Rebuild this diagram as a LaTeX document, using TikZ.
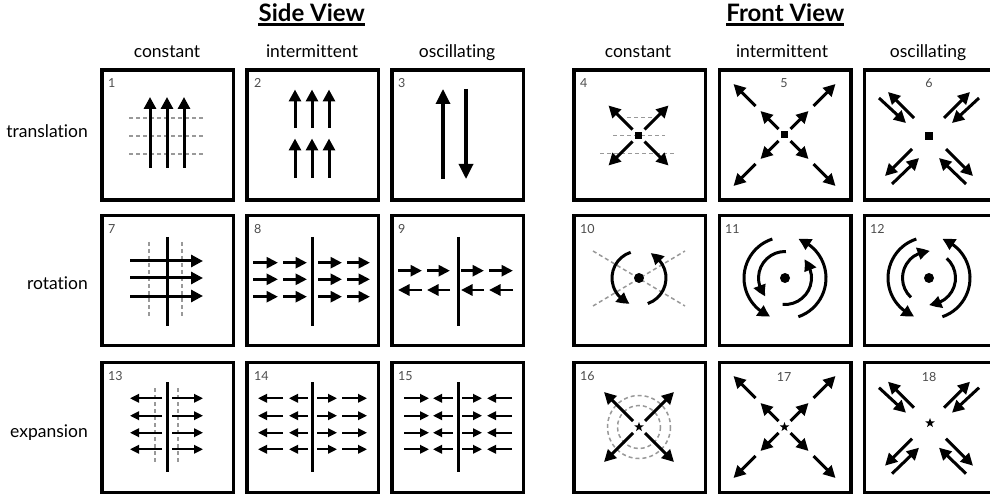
\documentclass[tikz,border=0pt]{standalone}
\usepackage{fontspec}
\setmainfont{Lato}[Ligatures=NoCommon]
\usetikzlibrary{arrows.meta,shapes.geometric,bending}
\newcommand\myIntX{%
  \foreach \sx/\sy in {1/1,1/-1,-1/1,-1/-1}{
    \draw[arr] (6*\sx,6*\sy) -- (24*\sx,24*\sy);
    \draw[arr] (29*\sx,29*\sy) -- (51*\sx,51*\sy);
  }}
\newcommand\myOscX{%
  \foreach \sx in {1,-1}{
    \draw[arr] (-50*\sx,-38) -- (-23*\sx,-13);
    \draw[arr] (-15*\sx,-18) -- (-41*\sx,-44);
    \draw[arr] (-17*\sx,13) -- (-44*\sx,40);
    \draw[arr] (-37*\sx,48) -- (-10*\sx,22);
  }}
\begin{document}
\begin{tikzpicture}[x=1pt,y=-1pt,
  panel/.style={draw=black, line width=3.5pt, minimum width=131.5pt, minimum height=130pt, inner sep=0pt},
  arr/.style={line width=3pt, -{Triangle[length=12pt,width=12pt]}},
  bigarr/.style={line width=3.3pt, -{Triangle[length=15pt,width=14pt]}},
  sarr/.style={line width=2.8pt, -{Triangle[length=11.5pt,width=11pt]}},
  tarr/.style={line width=2pt, -{Triangle[length=9pt,width=8.5pt]}},
  carr/.style={line width=3pt, -{Triangle[length=12pt,width=12pt,bend]}},
  solid3/.style={line width=3pt},
  gd/.style={draw=black!40, line width=1.5pt, dash pattern=on 4pt off 3pt},
  hdr/.style={font=\fontsize{24}{24}\selectfont\bfseries, inner sep=0pt},
  lab/.style={font=\fontsize{17.5}{17.5}\selectfont, inner sep=0pt},
  num/.style={font=\fontsize{12.5}{12.5}\selectfont, text=black!70, inner sep=0pt},
  starnode/.style={star, star points=5, star point ratio=2.5, fill=black, inner sep=0pt, minimum size=10pt}
]
\useasboundingbox (0,0) rectangle (990,494);
\clip (0,0) rectangle (990,494);

% headers
\node[hdr, anchor=base] (sv) at (311.7,21.7) {Side View};
\node[hdr, anchor=base] (fv) at (785.3,21.7) {Front View};
\draw[line width=2.2pt] ([yshift=-2.4pt]sv.south west) -- ([yshift=-2.4pt]sv.south east);
\draw[line width=2.2pt] ([yshift=-2.4pt]fv.south west) -- ([yshift=-2.4pt]fv.south east);

% column labels
\node[lab, anchor=base] (c1) at (167,58) {constant};
\node[lab, anchor=base] (c2) at (312,58) {intermittent};
\node[lab, anchor=base] (c3) at (457,58) {oscillating};
\node[lab, anchor=base] (c4) at (638,58) {constant};
\node[lab, anchor=base] (c5) at (782,58) {intermittent};
\node[lab, anchor=base] (c6) at (928,58) {oscillating};

% row labels
\node[lab, anchor=base east] (r1) at (88,137.5) {translation};
\node[lab, anchor=base east] (r2) at (88,290) {rotation};
\node[lab, anchor=base east] (r3) at (88,437) {expansion};

% boxes
\foreach \cx [count=\i] in {167.5,312.8,457.8,639.5,785.2,930.3}{
  \foreach \cy [count=\j] in {135.15,280.65,427.5}{
    \node[panel] (b\i\j) at (\cx,\cy) {};
  }}

% numbers
\node[num, anchor=west] (n1) at (108,83) {1};
\node[num, anchor=west] (n2) at (254,83) {2};
\node[num, anchor=west] (n3) at (398,83) {3};
\node[num, anchor=west] (n4) at (580,83) {4};
\node[num] (n5) at (784,83) {5};
\node[num] (n6) at (929,83) {6};
\node[num, anchor=west] (n7) at (108,229) {7};
\node[num, anchor=west] (n8) at (254,229) {8};
\node[num, anchor=west] (n9) at (398,229) {9};
\node[num, anchor=west] (n10) at (580,229) {10};
\node[num, anchor=west] (n11) at (725,229) {11};
\node[num, anchor=west] (n12) at (870,229) {12};
\node[num, anchor=west] (n13) at (108,376) {13};
\node[num, anchor=west] (n14) at (254,376) {14};
\node[num, anchor=west] (n15) at (398,376) {15};
\node[num, anchor=west] (n16) at (580,376) {16};
\node[num] (n17) at (784,377) {17};
\node[num] (n18) at (929,377) {18};

% ---- panel 1
\foreach \y in {118,136,154}{\draw[gd] (129,\y) -- (205,\y);}
\foreach \x in {150,167,184}{\draw[arr] (\x,168) -- (\x,97);}
% ---- panel 2
\foreach \x in {295,312,329}{
  \draw[arr] (\x,128) -- (\x,89.5);
  \draw[arr] (\x,178) -- (\x,138.5);}
% ---- panel 3
\draw[bigarr] (443,179) -- (443,89);
\draw[bigarr] (466,89) -- (466,179);

% ---- panel 7
\foreach \x in {149,182}{\draw[gd] (\x,242) -- (\x,317);}
\draw[solid3] (167,237) -- (167,326);
\foreach \y in {261,278,296}{\draw[arr] (130,\y) -- (203,\y);}
% ---- panel 8
\draw[solid3] (312,237) -- (312,326);
\foreach \y in {262.7,279.3,296.7}{
  \foreach \a/\b in {253/278,283/307,318/342,347/370}{\draw[sarr] (\a,\y) -- (\b,\y);}}
% ---- panel 9
\draw[solid3] (458,237) -- (458,326);
\foreach \a/\b in {398/422,427/450,461/484,489/513}{
  \draw[sarr] (\a,270.7) -- (\b,270.7);
  \draw[sarr] (\b,290) -- (\a,290);}

% ---- panel 13
\foreach \x in {155,178}{\draw[gd] (\x,388) -- (\x,462);}
\draw[solid3] (167,382) -- (167,472);
\foreach \y in {398.3,415.7,432.7,449.3}{
  \draw[tarr] (162,\y) -- (130,\y);
  \draw[tarr] (172,\y) -- (203,\y);}
% ---- panel 14
\draw[solid3] (312,382) -- (312,472);
\foreach \y in {398.3,415.7,432.7,449.3}{
  \draw[tarr] (283,\y) -- (258,\y);
  \draw[tarr] (308,\y) -- (289,\y);
  \draw[tarr] (317,\y) -- (337,\y);
  \draw[tarr] (342,\y) -- (367,\y);}
% ---- panel 15
\draw[solid3] (458,382) -- (458,472);
\foreach \y in {398.3,415.7,432.7,449.3}{
  \draw[tarr] (404,\y) -- (429,\y);
  \draw[tarr] (453,\y) -- (433,\y);
  \draw[tarr] (462,\y) -- (482,\y);
  \draw[tarr] (512,\y) -- (487,\y);}

% ---- panel 4
\draw[gd] (627,117.3) -- (652,117.3);
\draw[gd] (613,135.3) -- (665,135.3);
\draw[gd] (600,153.3) -- (675,153.3);
\begin{scope}[shift={(638.5,135.5)}]
  \fill (-3.5,-3.5) rectangle (3.5,3.5);
  \foreach \sx/\sy in {1/1,1/-1,-1/1,-1/-1}{\draw[arr] (6*\sx,6*\sy) -- (30*\sx,30*\sy);}
\end{scope}
% ---- panel 5
\begin{scope}[shift={(784.5,135)}]
  \fill (-3.5,-3.5) rectangle (3.5,3.5);
  \myIntX
\end{scope}
% ---- panel 6
\begin{scope}[shift={(929,136)}]
  \fill (-4,-4) rectangle (4,4);
  \myOscX
\end{scope}

% ---- panel 10
\begin{scope}[shift={(639,278)}]
  \draw[gd] (-46,-27) -- (46,28);
  \draw[gd] (-46,28) -- (46,-27);
  \fill (0,0) circle (5);
  \draw[carr] (-108:27) arc[start angle=-108, end angle=-250, radius=27];
  \draw[carr] (71:27) arc[start angle=71, end angle=-65, radius=27];
\end{scope}
% ---- panel 11
\begin{scope}[shift={(785,278)}]
  \fill (0,0) circle (5);
  \draw[carr] (-108:41) arc[start angle=-108, end angle=-249, radius=41];
  \draw[carr] (71:41) arc[start angle=71, end angle=-71, radius=41];
  \draw[carr] (-88:26.5) arc[start angle=-88, end angle=-223, radius=26.5];
  \draw[carr] (95:26.5) arc[start angle=95, end angle=-44, radius=26.5];
\end{scope}
% ---- panel 12
\begin{scope}[shift={(929,278)}]
  \fill (0,0) circle (5);
  \draw[carr] (-108:41) arc[start angle=-108, end angle=-249, radius=41];
  \draw[carr] (71:41) arc[start angle=71, end angle=-71, radius=41];
  \draw[carr] (-227:26.5) arc[start angle=-227, end angle=-88, radius=26.5];
  \draw[carr] (-48:26.5) arc[start angle=-48, end angle=90, radius=26.5];
\end{scope}

% ---- panel 16
\begin{scope}[shift={(639,427)}]
  \draw[gd] (0,0) circle (31.5);
  \draw[gd] (0,0) circle (21.5);
  \node[starnode] (s16) at (0,0) {};
  \foreach \sx/\sy in {1/1,1/-1,-1/1,-1/-1}{\draw[arr] (6*\sx,6*\sy) -- (35*\sx,35*\sy);}
\end{scope}
% ---- panel 17
\begin{scope}[shift={(784.5,427)}]
  \node[starnode] (s17) at (0,0) {};
  \myIntX
\end{scope}
% ---- panel 18
\node[starnode] (s18) at (930,423) {};
\begin{scope}[shift={(929,425.7)}]
  \myOscX
\end{scope}
\end{tikzpicture}
\end{document}
